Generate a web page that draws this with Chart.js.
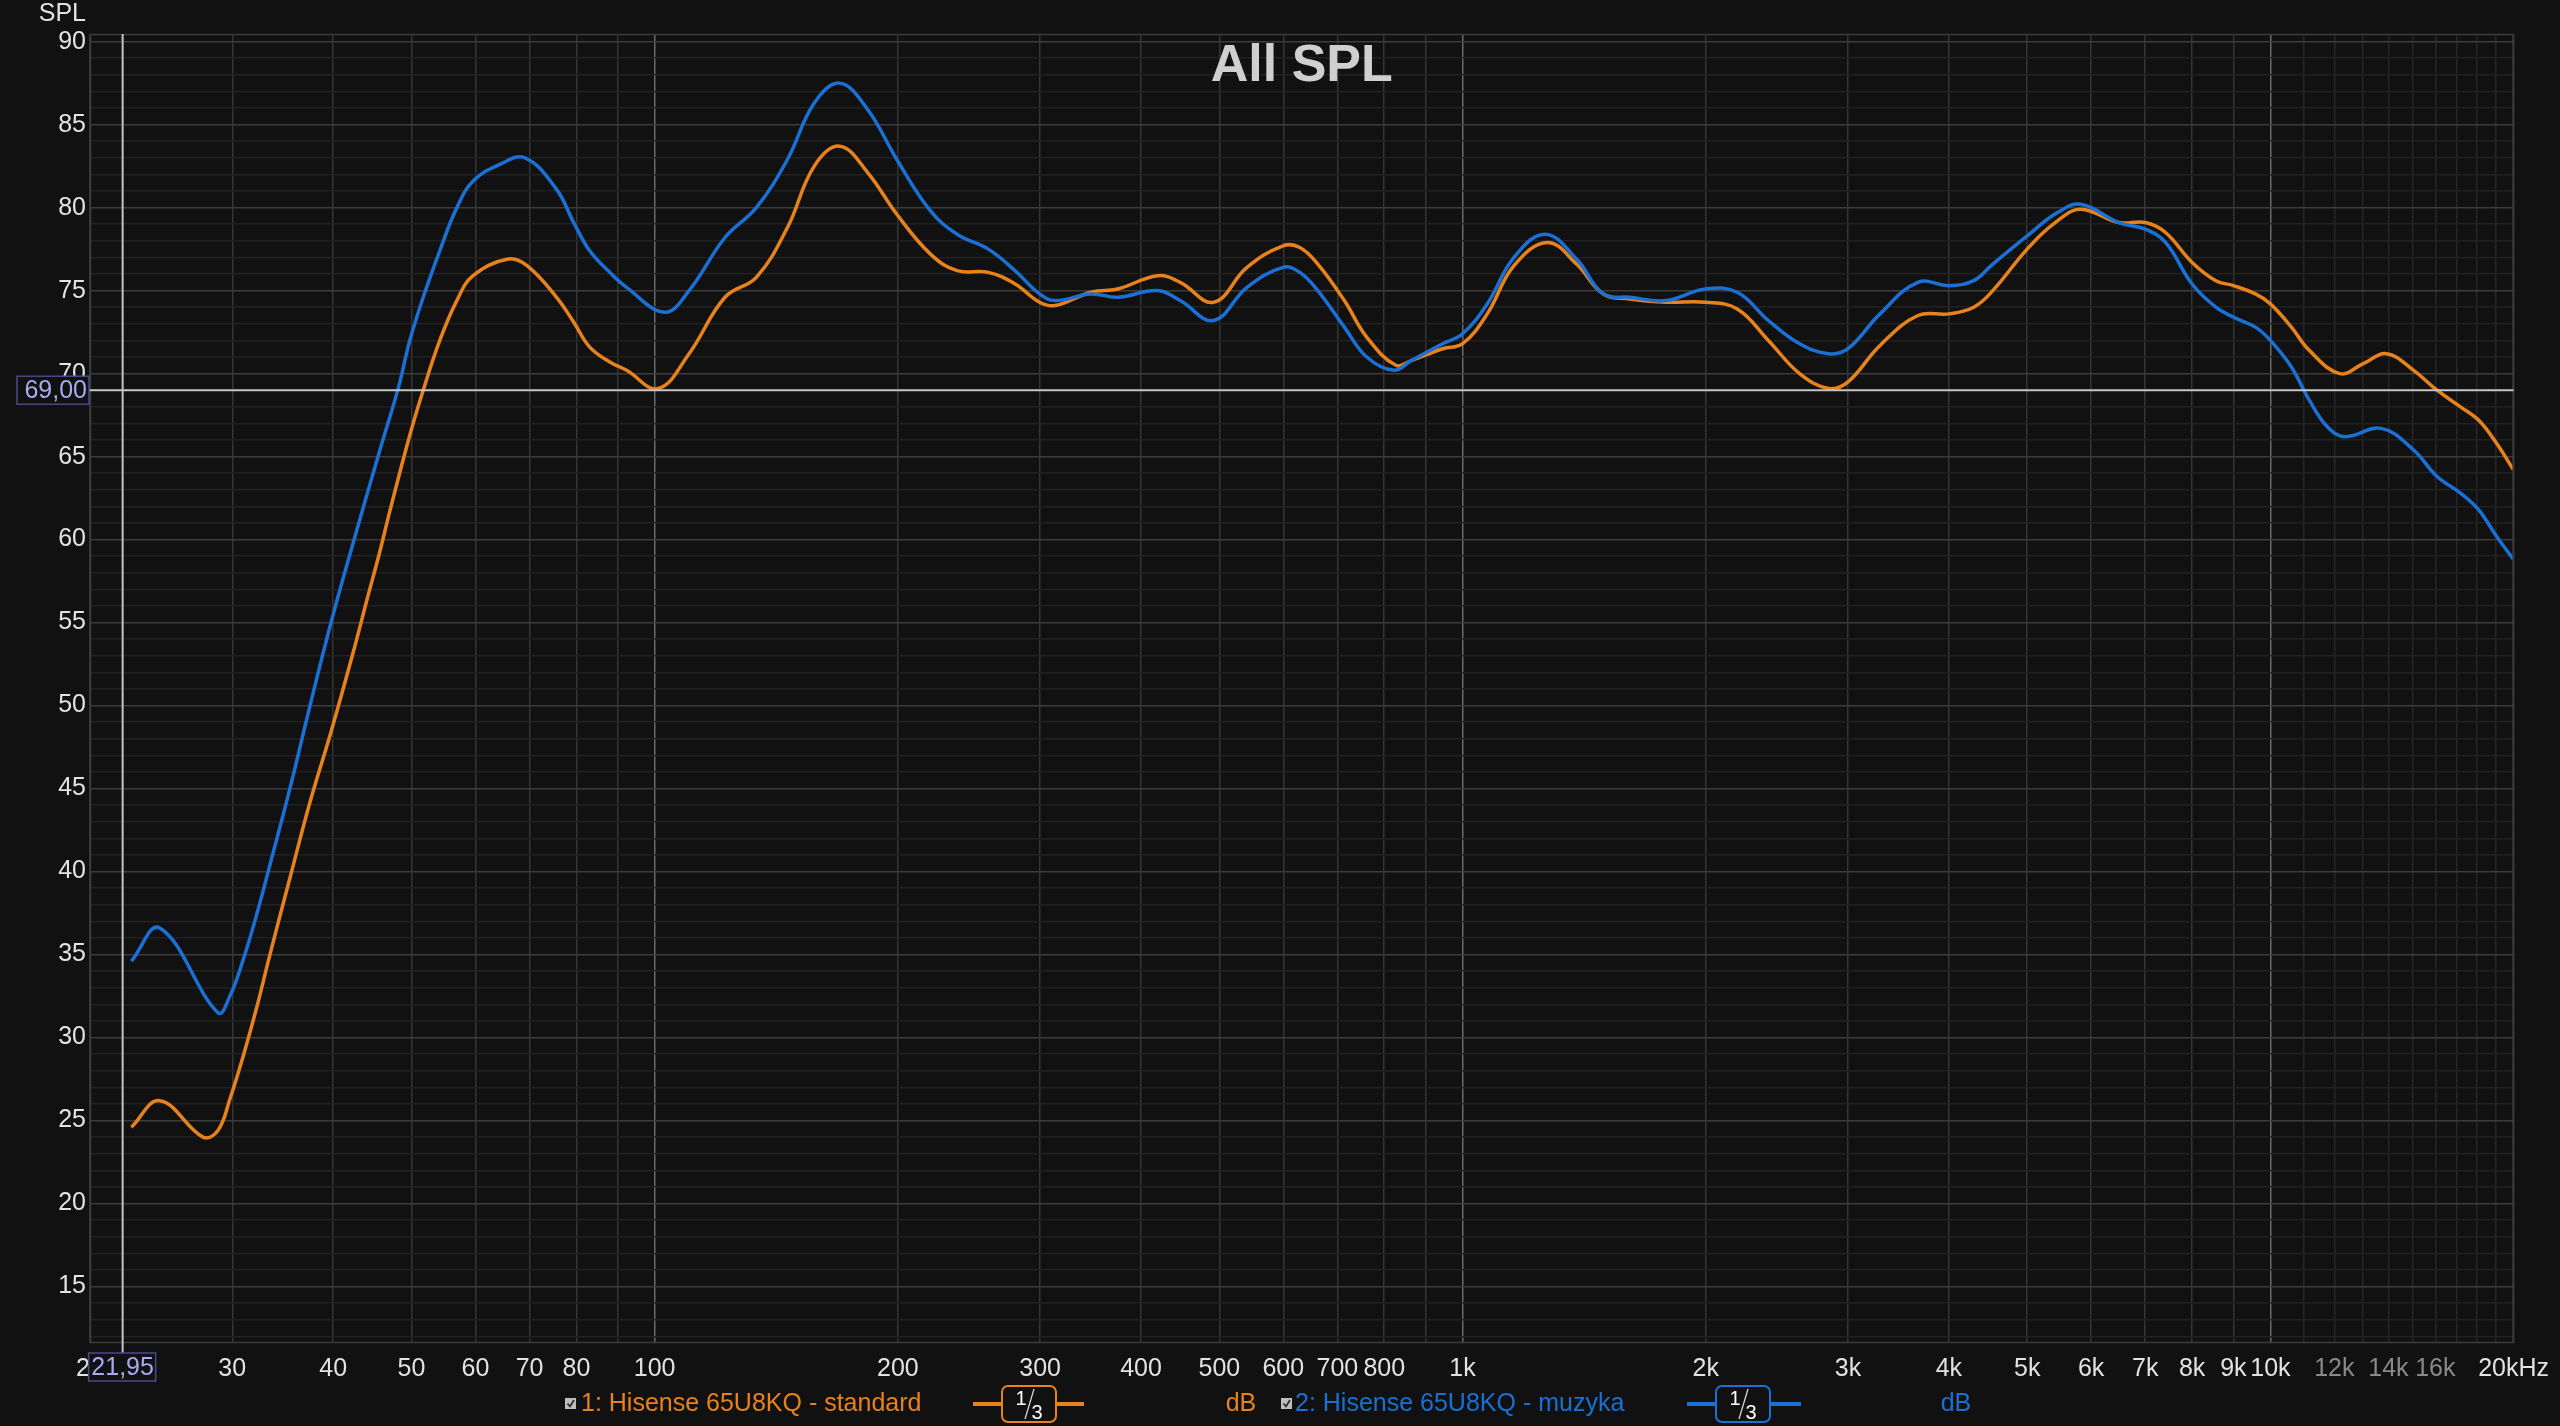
<!DOCTYPE html>
<html><head><meta charset="utf-8">
<script src="https://cdn.jsdelivr.net/npm/chart.js@4.4.1/dist/chart.umd.min.js"></script>
<style>html,body{margin:0;padding:0;background:#111111;overflow:hidden}</style>
</head><body>
<canvas id="c" width="2560" height="1426"></canvas>
<script>
// ---- data ----
const freqStandard = [22.5,24.4,27.6,28.8,29.8,31.0,32.2,33.4,35.4,37.4,39.8,42.4,44.0,45.7,47.0,49.7,51.7,54.2,56.9,59.6,65.9,69.5,75.6,79.4,83.1,88.0,92.3,101.0,110.3,122.2,133.6,146,157.6,169.5,183.6,199.4,219.5,236.8,258.8,279.4,299.6,313.2,346.8,374.3,419.4,447.2,491.9,541,599.5,629,662,714,761,827,865,945,1000,1073,1158,1274,1384,1494,1612,1785,1997,2188,2391,2614,2840,3000,3287,3662,4004,4293,4533,5000,5450,5826,6490,7000,7416,8000,8560,9000,9583,10000,10617,11173,12190,13030,13925,15040,16080,17190,18100,19050,20000];
const splStandard = [24.6,26.2,24.0,24.4,26.3,29.0,31.9,35.0,39.7,44.1,48.5,53.3,56.3,59.3,61.7,66.2,69.0,72.0,74.4,75.9,76.9,76.5,74.6,73.1,71.6,70.7,70.2,69.1,71.2,74.6,75.8,78.8,82.5,83.7,82.1,79.6,77.2,76.2,76.1,75.4,74.3,74.1,74.9,75.1,75.9,75.5,74.3,76.4,77.7,77.6,76.6,74.4,72.2,70.5,70.8,71.5,71.8,73.6,76.5,77.9,76.6,74.8,74.5,74.3,74.3,73.9,72.0,70.0,69.1,69.5,71.7,73.5,73.6,74.0,75.0,77.5,79.2,79.9,79.1,79.1,78.5,76.7,75.6,75.3,74.8,74.2,72.8,71.4,70.0,70.6,71.2,70.2,69.0,68.0,67.2,65.8,64.2];
const freqMuzyka = [22.5,24.4,28.8,29.8,31.0,32.2,33.4,35.4,37.4,39.8,42.4,45.7,48.2,49.7,51.7,54.2,56.9,59.6,64.3,69.1,75.6,79.4,83.1,88.0,92.3,102.9,110.3,122.2,133.6,146,157.6,169.5,183.6,199.4,219.5,236.8,258.8,279.4,299.6,313.2,346.8,374.3,419.4,447.2,491.9,541,599.5,629,662,714,761,822,865,945,1000,1073,1158,1266,1384,1494,1612,1785,1997,2188,2391,2614,2840,3000,3287,3662,4004,4293,4533,5000,5450,5826,6490,7000,7416,8000,8560,9000,9583,10000,10617,11173,11760,12380,13720,15040,16080,17190,18100,19050,20000];
const splMuzyka = [34.6,36.6,31.5,32.5,34.8,37.5,40.4,45.1,49.9,55.1,59.9,65.4,69.2,71.9,74.6,77.4,80.0,81.6,82.6,83.0,81.1,79.1,77.4,76.1,75.2,73.7,75.0,78.2,80.0,82.9,86.3,87.5,85.9,82.9,79.8,78.4,77.5,76.2,74.8,74.4,74.8,74.6,75.0,74.4,73.2,75.2,76.4,76.1,75.0,72.8,71.0,70.2,70.8,71.8,72.4,74.2,77.0,78.4,76.9,74.8,74.6,74.4,75.1,74.9,73.2,71.8,71.2,71.5,73.6,75.5,75.3,75.6,76.6,78.3,79.7,80.2,79.1,78.7,77.9,75.4,74.0,73.4,72.8,72.0,70.4,68.4,66.8,66.2,66.7,65.4,63.8,62.8,61.8,60.2,58.8];

const xTickValues = [20,30,40,50,60,70,80,90,100,200,300,400,500,600,700,800,900,1000,2000,3000,4000,5000,6000,7000,8000,9000,10000,11000,12000,13000,14000,15000,16000,17000,18000,19000,20000];
const xTickLabels = ['20','30','40','50','60','70','80','','100','200','300','400','500','600','700','800','','1k','2k','3k','4k','5k','6k','7k','8k','9k','10k','','12k','','14k','','16k','','','','20kHz'];
const xDimLabels = ['12k','14k','16k'];
const yMajorTicks = [15,20,25,30,35,40,45,50,55,60,65,70,75,80,85,90];
const yMin = 11.6, yMax = 90.46;
const xMin = 20, xMax = 20000;
const cursorFreq = 21.95, cursorSpl = 69.0;
const cursorFreqLabel = '21,95', cursorSplLabel = '69,00';
const titleText = 'All SPL';
const yAxisTitle = 'SPL';
const seriesNames = ['1: Hisense 65U8KQ - standard', '2: Hisense 65U8KQ - muzyka'];

const ORANGE = '#e8821c', BLUE = '#1a70d4';
const FONT = "'Liberation Sans', Arial, sans-serif";

const yGridTicks = [];
for (let v = Math.ceil(yMin); v <= Math.floor(yMax); v++) yGridTicks.push(v);

function pts(fs, vs){ return fs.map((f,i)=>({x:f, y:vs[i]})); }

const decorPlugin = {
  id: 'decor',
  beforeDraw(chart){
    const c = chart.ctx;
    c.save(); c.fillStyle = '#111111'; c.fillRect(0,0,chart.width,chart.height); c.restore();
  },
  afterDraw(chart){
    const c = chart.ctx, a = chart.chartArea, xs = chart.scales.x, ys = chart.scales.y;
    c.save();
    c.strokeStyle = '#3c3c3c'; c.lineWidth = 1.5;
    c.strokeRect(a.left+0.5, a.top+0.5, a.right-a.left-1, a.bottom-a.top-1);
    c.fillStyle = '#cfcfcf'; c.font = "bold 52px " + FONT; c.textAlign = 'center'; c.textBaseline = 'middle';
    c.fillText(titleText, (a.left+a.right)/2, 67);
    c.fillStyle = '#e0e0e0'; c.font = "25px " + FONT; c.textAlign = 'right'; c.textBaseline = 'middle';
    c.fillText(yAxisTitle, 86, 14);
    const cx = xs.getPixelForValue(cursorFreq), cy = ys.getPixelForValue(cursorSpl);
    c.strokeStyle = '#c4c4c4'; c.lineWidth = 2;
    c.beginPath(); c.moveTo(cx, a.top); c.lineTo(cx, a.bottom + 10); c.stroke();
    c.beginPath(); c.moveTo(a.left - 2, cy); c.lineTo(a.right, cy); c.stroke();
    c.font = "25px " + FONT; c.textBaseline = 'middle';
    c.fillStyle = '#111111'; c.fillRect(17, cy-14, 72, 28);
    c.strokeStyle = '#4a4a8a'; c.lineWidth = 1.5; c.strokeRect(17, cy-14, 72, 28);
    c.fillStyle = '#a9a9f2'; c.textAlign = 'right'; c.fillText(cursorSplLabel, 87, cy+1);
    c.fillStyle = '#111111'; c.fillRect(cx-34, 1353, 67, 28);
    c.strokeStyle = '#4a4a8a'; c.strokeRect(cx-34, 1353, 67, 28);
    c.fillStyle = '#a9a9f2'; c.textAlign = 'center'; c.fillText(cursorFreqLabel, cx, 1368);
    const ly = 1404;
    function check(x){
      c.fillStyle = '#bdbdbd'; c.fillRect(x, ly-6, 11, 11);
      c.strokeStyle = '#222'; c.lineWidth = 1.6;
      c.beginPath(); c.moveTo(x+2.5, ly-0.5); c.lineTo(x+5, ly+2.5); c.lineTo(x+9, ly-4); c.stroke();
    }
    function lineSym(x1, x2, bx1, bx2, col){
      c.strokeStyle = col; c.lineWidth = 4;
      c.beginPath(); c.moveTo(x1, ly); c.lineTo(x2, ly); c.stroke();
      c.fillStyle = '#111111';
      c.beginPath(); c.roundRect(bx1, ly-18, bx2-bx1, 36, 6); c.fill();
      c.lineWidth = 2; c.stroke();
      const mx = (bx1+bx2)/2;
      c.fillStyle = '#ffffff'; c.font = "20px " + FONT; c.textAlign = 'center';
      c.fillText('1', mx-8, ly-5); c.fillText('3', mx+8, ly+9);
      c.strokeStyle = '#dddddd'; c.lineWidth = 1.2;
      c.beginPath(); c.moveTo(mx+5, ly-15); c.lineTo(mx-4, ly+15); c.stroke();
    }
    c.font = "25px " + FONT; c.textBaseline = 'middle';
    check(565);
    c.fillStyle = ORANGE; c.textAlign = 'left'; c.font = "25px " + FONT; c.fillText(seriesNames[0], 581, ly);
    lineSym(973, 1084, 1002, 1056, ORANGE);
    c.font = "25px " + FONT; c.textBaseline = 'middle';
    c.fillStyle = ORANGE; c.textAlign = 'center'; c.fillText('dB', 1241, ly);
    check(1281);
    c.fillStyle = BLUE; c.textAlign = 'left'; c.fillText(seriesNames[1], 1295, ly);
    lineSym(1687, 1801, 1716, 1770, BLUE);
    c.font = "25px " + FONT; c.textBaseline = 'middle';
    c.fillStyle = BLUE; c.textAlign = 'center'; c.fillText('dB', 1956, ly);
    c.restore();
  }
};

new Chart(document.getElementById('c'), {
  type: 'line',
  data: {
    datasets: [
      { label: seriesNames[1], data: pts(freqMuzyka, splMuzyka), borderColor: BLUE, borderWidth: 3.5, pointRadius: 0, tension: 0.4, fill: false, order: 0 },
      { label: seriesNames[0], data: pts(freqStandard, splStandard), borderColor: ORANGE, borderWidth: 3.5, pointRadius: 0, tension: 0.4, fill: false, order: 1 }
    ]
  },
  options: {
    responsive: false, animation: false, devicePixelRatio: 1,
    layout: { padding: { top: 34, right: 46, left: 0, bottom: 0 } },
    plugins: { legend: { display: false }, title: { display: false }, tooltip: { enabled: false } },
    events: [],
    scales: {
      x: {
        type: 'logarithmic', min: xMin, max: xMax,
        afterBuildTicks(s){ s.ticks = xTickValues.map(v => ({ value: v })); },
        afterFit(s){ s.height = 83; },
        grid: {
          drawTicks: false,
          color(ctx){
            const v = ctx.tick ? ctx.tick.value : 0;
            if (v === 100 || v === 1000 || v === 10000) return '#6a6a6a';
            if (v > 10000 && v < 20000) return '#262626';
            return '#353535';
          },
          lineWidth: 1.5
        },
        border: { display: false },
        ticks: {
          autoSkip: false, maxRotation: 0, minRotation: 0, padding: 11,
          font: { family: FONT, size: 25 },
          color(ctx){ const i = xTickValues.indexOf(ctx.tick.value); return xDimLabels.includes(xTickLabels[i]) ? '#8a8a8a' : '#e2e2e2'; },
          callback(value, index){ return xTickLabels[index]; }
        }
      },
      y: {
        type: 'linear', min: yMin, max: yMax,
        afterBuildTicks(s){ s.ticks = yGridTicks.map(v => ({ value: v })); },
        afterFit(s){ s.width = 90; },
        grid: {
          drawTicks: false,
          color(ctx){ const v = ctx.tick ? ctx.tick.value : 0; return v % 5 === 0 ? '#3c3c3c' : '#212121'; },
          lineWidth: 1.5
        },
        border: { display: false },
        ticks: {
          autoSkip: false, padding: 4,
          font: { family: FONT, size: 25 }, color: '#e2e2e2',
          callback(value){ return yMajorTicks.includes(value) ? String(value) : ''; }
        }
      }
    }
  },
  plugins: [decorPlugin]
});
</script>
</body></html>
